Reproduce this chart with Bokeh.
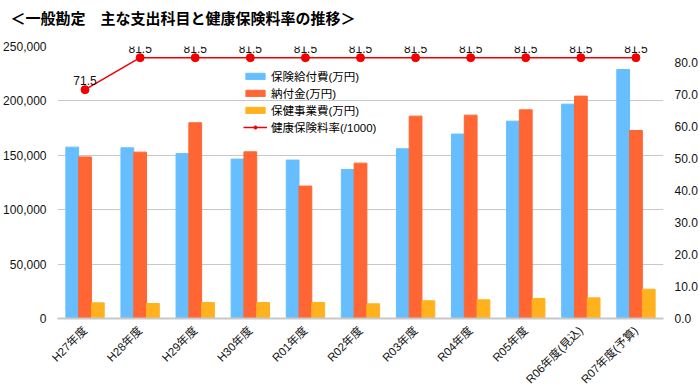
import math
from bokeh.plotting import figure
from bokeh.models import (Range1d, LinearAxis, FactorRange, Legend, LegendItem,
                          NumeralTickFormatter, FixedTicker, ColumnDataSource)
from bokeh.transform import dodge
from bokeh.core.properties import value
from bokeh.embed import file_html
from bokeh.resources import INLINE

# ---- data ----
years = ["H27年度", "H28年度", "H29年度", "H30年度", "R01年度", "R02年度",
         "R03年度", "R04年度", "R05年度", "R06年度(見込)", "R07年度(予算)"]
benefits = [157500, 156900, 151600, 146500, 145600, 136900, 156000, 169500, 181400, 197000, 228800]
levies = [148500, 152900, 179900, 153200, 121700, 142800, 186000, 186900, 191800, 204400, 172800]
health = [14400, 13800, 14700, 14700, 14700, 13500, 16300, 17200, 18400, 19000, 26900]
rate = [71.5, 81.5, 81.5, 81.5, 81.5, 81.5, 81.5, 81.5, 81.5, 81.5, 81.5]
left_ticks = [0, 50000, 100000, 150000, 200000, 250000]
right_ticks = [0, 10, 20, 30, 40, 50, 60, 70, 80]

series_names = ["保険給付費(万円)", "納付金(万円)", "保健事業費(万円)", "健康保険料率(/1000)"]
title_text = "＜一般勘定　主な支出科目と健康保険料率の推移＞"

FONT = "Liberation Sans, Noto Sans CJK JP"
C_BLUE = "#66BEFF"
C_ORANGE = "#FF6633"
C_YELLOW = "#FFB21E"
C_RED = "#F20000"

src = ColumnDataSource(dict(year=years, benefits=benefits, levies=levies, health=health,
                            rate=rate, rate_label=[f"{r:.1f}" for r in rate]))

p = figure(x_range=FactorRange(factors=years, range_padding=0),
           y_range=Range1d(0, 250000),
           frame_width=606, frame_height=272,
           min_border_left=57, min_border_top=46, min_border_right=5, min_border_bottom=65,
           output_backend="svg", toolbar_location=None)
p.extra_y_ranges = {"rate": Range1d(0, 85)}

# trailing blank line lifts the title away from the plot area
p.title.text = title_text + "\n"
p.title.text_font = FONT
p.title.text_font_size = "15px"
p.title.text_font_style = "bold"
p.title.align = "left"
p.title.vertical_align = "top"
p.title.offset = -47
p.title.standoff = 2
p.title.text_color = "#000000"

p.outline_line_color = None
p.background_fill_color = "white"
p.xgrid.visible = False
p.ygrid.grid_line_color = "#C8C8C8"
p.ygrid.grid_line_width = 1

# left axis
la = p.yaxis[0]
la.ticker = FixedTicker(ticks=left_ticks)
la.formatter = NumeralTickFormatter(format="0,0")
la.axis_line_color = None
la.major_tick_line_color = None
la.minor_tick_line_color = None
la.major_label_standoff = 5
la.major_label_text_font = FONT
la.major_label_text_font_size = "12px"
la.major_label_text_color = "#111111"

# right axis
ra = LinearAxis(y_range_name="rate", ticker=FixedTicker(ticks=right_ticks),
                formatter=NumeralTickFormatter(format="0.0"))
ra.axis_line_color = None
ra.major_tick_line_color = None
ra.minor_tick_line_color = None
ra.major_label_standoff = 5
ra.major_label_text_font = FONT
ra.major_label_text_font_size = "12px"
ra.major_label_text_color = "#111111"
p.add_layout(ra, "right")

# bottom axis
xa = p.xaxis[0]
xa.axis_line_color = "#C8C8C8"
xa.axis_line_width = 2
xa.major_tick_line_color = None
xa.minor_tick_line_color = None
xa.major_label_orientation = math.pi / 4
xa.major_label_standoff = 4
xa.major_label_text_font = FONT
xa.major_label_text_font_size = "11.5px"
xa.major_label_text_color = "#111111"

w = 0.232
b1 = p.vbar(x=dodge("year", -w, range=p.x_range), top="benefits", width=w, source=src,
            fill_color=C_BLUE, line_color=C_BLUE)
b2 = p.vbar(x=dodge("year", 0, range=p.x_range), top="levies", width=w, source=src,
            fill_color=C_ORANGE, line_color=C_ORANGE)
b3 = p.vbar(x=dodge("year", w, range=p.x_range), top="health", width=w, source=src,
            fill_color=C_YELLOW, line_color=C_YELLOW)

ln = p.line(x="year", y="rate", y_range_name="rate", source=src, line_color=C_RED, line_width=1.5)
sc = p.scatter(x="year", y="rate", y_range_name="rate", source=src, size=8,
               fill_color=C_RED, line_color=C_RED)
p.text(x="year", y="rate", text="rate_label", y_range_name="rate", source=src,
       text_align="center", text_baseline="bottom", y_offset=-5,
       text_font=value(FONT), text_font_size="12px", text_color="#111111")

legend = Legend(items=[LegendItem(label=series_names[0], renderers=[b1]),
                       LegendItem(label=series_names[1], renderers=[b2]),
                       LegendItem(label=series_names[2], renderers=[b3]),
                       LegendItem(label=series_names[3], renderers=[ln, sc])],
                location=(186, 183), padding=0, margin=0,
                background_fill_alpha=0, border_line_alpha=0,
                glyph_width=24, glyph_height=8, label_standoff=4, spacing=1,
                label_height=13,
                label_text_font=FONT, label_text_font_size="11.5px", label_text_color="#000000")
p.add_layout(legend)

open("out.html", "w").write(file_html(p, INLINE))
